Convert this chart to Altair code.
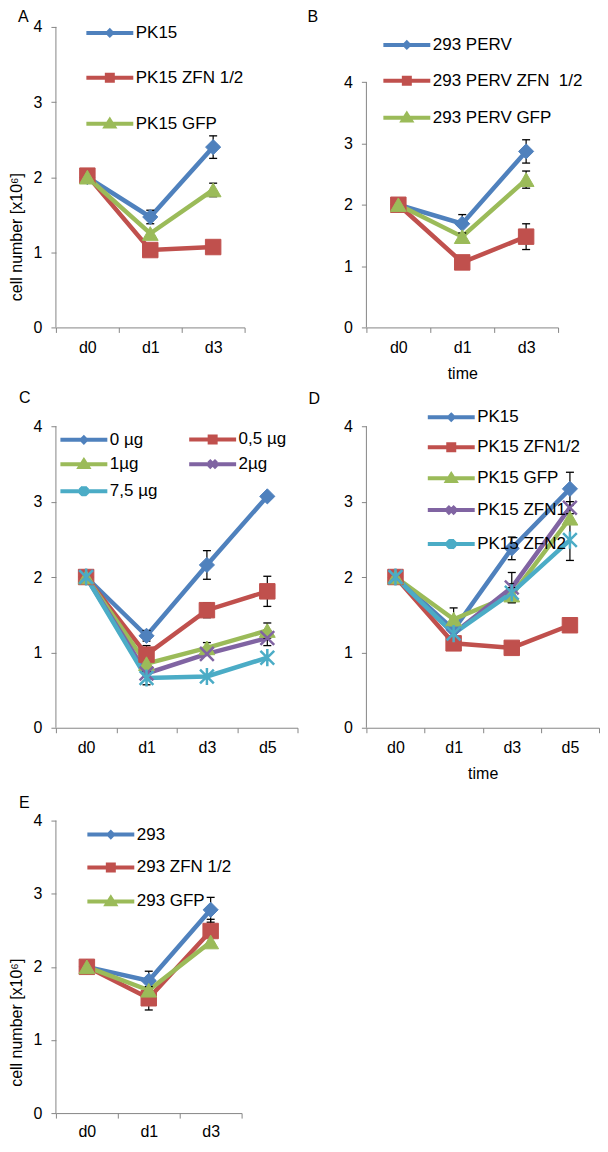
import altair as alt
import pandas as pd

FONT = "Liberation Sans"
GREY = "#868686"
INK = "#000000"

SERIES_COLORS = ["#4F81BD", "#C0504D", "#9BBB59", "#8064A2", "#4BACC6"]

# ---------------- data ----------------
A_days = ["d0", "d1", "d3"]
A_series = ["PK15", "PK15 ZFN 1/2", "PK15 GFP"]
A_values = [[2.00, 1.47, 2.40], [2.02, 1.03, 1.07], [2.00, 1.25, 1.83]]
A_errors = [[0, 0.09, 0.15], [0, 0, 0], [0, 0, 0.09]]

B_days = ["d0", "d1", "d3"]
B_series = ["293 PERV", "293 PERV ZFN\u00a0 1/2", "293 PERV GFP"]
B_values = [[2.00, 1.69, 2.87], [2.00, 1.06, 1.48], [2.00, 1.48, 2.41]]
B_errors = [[0, 0.15, 0.19], [0, 0, 0.21], [0, 0, 0.14]]

C_days = ["d0", "d1", "d3", "d5"]
C_series = ["0 µg", "0,5 µg", "1µg", "2µg", "7,5 µg"]
C_values = [[2.00, 1.22, 2.16, 3.07], [2.00, 0.97, 1.56, 1.81],
            [2.00, 0.85, 1.06, 1.29], [2.00, 0.72, 0.98, 1.19],
            [2.00, 0.66, 0.68, 0.93]]
C_errors = [[0, 0.07, 0.19, 0], [0, 0.12, 0.10, 0.20], [0, 0, 0.07, 0.10],
            [0, 0, 0, 0.10], [0, 0.09, 0, 0]]

D_days = ["d0", "d1", "d3", "d5"]
D_series = ["PK15", "PK15 ZFN1/2", "PK15 GFP", "PK15 ZFN1", "PK15 ZFN2"]
D_values = [[2.00, 1.30, 2.38, 3.17], [2.00, 1.12, 1.06, 1.36],
            [2.00, 1.44, 1.76, 2.78], [2.00, 1.25, 1.86, 2.92],
            [2.00, 1.25, 1.79, 2.49]]
D_errors = [[0, 0, 0.15, 0.22], [0, 0, 0, 0], [0, 0.15, 0.10, 0],
            [0, 0, 0.20, 0.08], [0, 0, 0.12, 0.27]]

E_days = ["d0", "d1", "d3"]
E_series = ["293", "293 ZFN 1/2", "293 GFP"]
E_values = [[2.00, 1.81, 2.78], [2.00, 1.57, 2.49], [2.00, 1.68, 2.34]]
E_errors = [[0, 0.13, 0.17], [0, 0.16, 0.16], [0, 0, 0]]

Y_TICKS = [0, 1, 2, 3, 4]
Y_TITLE = "cell number [x10\u2076]"

# ---------------- styles ----------------
MARKER_SHAPES = ["diamond", "square", "triangle-up",
                 "M-1,-1L1,1M-1,1L1,-1",
                 "M-1,-1L1,1M-1,1L1,-1M0,-1.25L0,1.25"]
MARKER_SIZES = [230, 240, 250, 190, 190]
MARKER_STROKES = [1, 1, 1, 2.5, 2.5]

LEG_LINE = "M-4.7,0L4.7,0"
LEGEND_SHAPES = [
    LEG_LINE + "M0,-0.45L0.45,0L0,0.45L-0.45,0Z",
    LEG_LINE + "M-0.6,-0.6L0.6,-0.6L0.6,0.6L-0.6,0.6Z",
    LEG_LINE + "M0,-0.7L0.8,0.55L-0.8,0.55Z",
    LEG_LINE + "M-0.75,-0.75L0.75,0.75M-0.75,0.75L0.75,-0.75",
    LEG_LINE + "M-0.75,-0.75L0.75,0.75M-0.75,0.75L0.75,-0.75M0,-1L0,1",
]


def panel(letter, days, series, values, errors, width, height, ymax,
          ytitle, xtitle, letter_x, letter_y, leg_x, leg_y, row_pad,
          columns=1, col_pad=10, direction="vertical", title_y=150,
          x_label_pad=7):
    n = len(series)
    rows = []
    for s, vals, errs in zip(series, values, errors):
        for d, v, e in zip(days, vals, errs):
            rows.append(dict(day=d, series=s, value=v, err=e, lo=v - e, hi=v + e))
    df = pd.DataFrame(rows)
    err_df = df[df["err"] > 0]

    xscale = alt.Scale(type="band", domain=days, paddingInner=0, paddingOuter=0)
    yscale = alt.Scale(domain=[0, ymax], nice=False, zero=True)
    cscale = alt.Scale(domain=series, range=SERIES_COLORS[:n])

    xaxis = alt.Axis(title=xtitle, labelAngle=0, domain=True, domainColor=GREY,
                     domainWidth=1, grid=False, ticks=True, tickColor=GREY,
                     tickSize=5, tickBand="extent", labelPadding=x_label_pad,
                     labelFont=FONT, labelFontSize=16, labelColor=INK,
                     titleFont=FONT, titleFontSize=16, titleFontWeight="normal",
                     titleColor=INK, titlePadding=10)
    yaxis = alt.Axis(title=ytitle, values=Y_TICKS, domain=False, grid=False,
                     ticks=True, tickColor=GREY, tickSize=5, labelPadding=9,
                     labelFont=FONT, labelFontSize=16, labelColor=INK,
                     titleFont=FONT, titleFontSize=16, titleFontWeight="normal",
                     titleColor=INK, titlePadding=9, titleY=title_y)

    def X():
        return alt.X("day:N", sort=days, scale=xscale, axis=xaxis, bandPosition=0.5)

    def Y(f):
        return alt.Y(f, type="quantitative", scale=yscale, axis=yaxis)

    leg = alt.Legend(title=None, orient="none", legendX=leg_x, legendY=leg_y,
                     padding=0, rowPadding=row_pad, columns=columns,
                     columnPadding=col_pad, direction=direction,
                     labelFont=FONT, labelFontSize=17,
                     labelColor=INK, labelOffset=17.5, labelLimit=300,
                     symbolSize=100, symbolStrokeWidth=4, symbolOpacity=1)

    legend_layer = alt.Chart(df).transform_filter("false").mark_point(
        filled=True, opacity=1, strokeWidth=4).encode(
        color=alt.Color("series:N", scale=cscale, legend=leg),
        stroke=alt.Stroke("series:N", scale=cscale, legend=leg),
        shape=alt.Shape("series:N", scale=alt.Scale(domain=series, range=LEGEND_SHAPES[:n]),
                        legend=leg),
    )

    axis_df = pd.DataFrame({"lo": [float(Y_TICKS[0])], "hi": [float(Y_TICKS[-1])]})
    axis_line = alt.Chart(axis_df).mark_rule(color=GREY, strokeWidth=1).encode(
        y=Y("lo"), y2="hi:Q", x=alt.value(0))

    lines = alt.Chart(df).mark_line(strokeWidth=4.5).encode(
        x=X(), y=Y("value"), color=alt.Color("series:N", scale=cscale))

    eb_rule = alt.Chart(err_df).mark_rule(color=INK, strokeWidth=1.2).encode(
        x=X(), y=Y("lo"), y2="hi:Q")
    eb_caps = alt.Chart(err_df).transform_fold(["lo", "hi"], as_=["end", "ev"]).mark_point(
        shape="stroke", size=64, strokeWidth=1.3, color=INK, opacity=1).encode(
        x=X(), y=Y("ev"))

    markers = []
    for i, s in enumerate(series):
        markers.append(
            alt.Chart(df).transform_filter(alt.FieldEqualPredicate(field="series", equal=s))
            .mark_point(filled=True, opacity=1, shape=MARKER_SHAPES[i],
                        size=MARKER_SIZES[i], strokeWidth=MARKER_STROKES[i])
            .encode(x=X(), y=Y("value"),
                    color=alt.Color("series:N", scale=cscale),
                    stroke=alt.Stroke("series:N", scale=cscale))
        )

    letter_layer = alt.Chart(pd.DataFrame({"t": [letter]})).mark_text(
        align="left", baseline="top", font=FONT, fontSize=16, color=INK).encode(
        text="t:N", x=alt.value(letter_x), y=alt.value(letter_y))

    return alt.layer(legend_layer, axis_line, lines, eb_rule, eb_caps, *markers,
                     letter_layer).properties(width=width, height=height)


pA = panel("A", A_days, A_series, A_values, A_errors, 189, 301, 4.0,
           Y_TITLE, None, -38, -18, 45.5, -2.5, 23, title_y=210)
pB = panel("B", B_days, B_series, B_values, B_errors, 192, 301, 4.9,
           None, "time", -59, -18, 32, 9.5, 14)
pC = panel("C", C_days, C_series, C_values, C_errors, 242, 308, 4.08,
           None, None, -37, -30, 19.5, 10.5, 1, columns=2, col_pad=23,
           direction="horizontal")
pD = panel("D", D_days, D_series, D_values, D_errors, 233, 308, 4.08,
           None, "time", -58, -29, 76.5, -11.5, 8)
pE = panel("E", E_days, E_series, E_values, E_errors, 186, 293, 4.0,
           Y_TITLE, None, -37, -26, 46.5, 5.5, 11, title_y=202, x_label_pad=5)

chart = alt.concat(pA, pB, pC, pD, pE, columns=2,
                   spacing={"row": 93, "column": 69},
                   bounds="flush", align="each").resolve_scale(
    color="independent", stroke="independent", shape="independent",
    x="independent", y="independent").resolve_legend(
    color="independent", stroke="independent", shape="independent").properties(
    padding=0).configure(font=FONT).configure_view(stroke=None)

chart.save("out.html", embed_options={"renderer": "svg", "actions": False})
